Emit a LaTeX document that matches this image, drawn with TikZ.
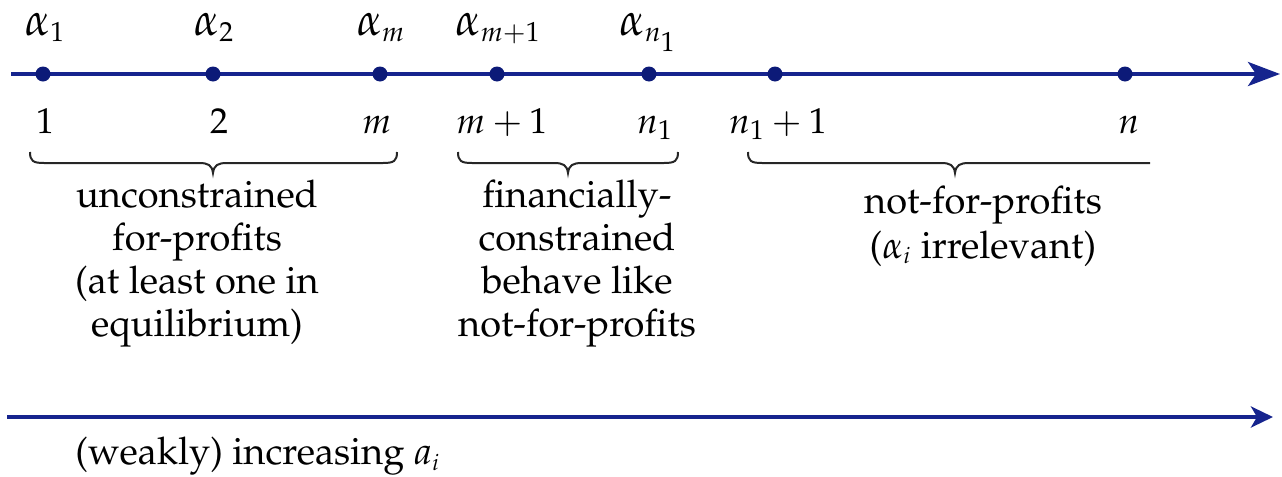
\documentclass[tikz,border=0pt]{standalone}
\usepackage[T1]{fontenc}
\usepackage{mathpazo}
\usetikzlibrary{arrows.meta}
\definecolor{axisblue}{RGB}{22,36,142}
\definecolor{dotblue}{RGB}{12,26,120}
\begin{document}
\begin{tikzpicture}[x=0.5pt,y=-0.5pt,
  axis/.style={draw=axisblue, line width=2pt},
  dot/.style={circle, fill=dotblue, inner sep=0pt, minimum size=7.5pt},
  lbl/.style={anchor=base, inner sep=0pt, font=\fontsize{18}{21}\selectfont},
  wlbl/.style={anchor=base, inner sep=0pt, font=\fontsize{23}{24}\selectfont},
  brace/.style={draw=black!85, line width=1pt},
  txt/.style={align=center, inner sep=0pt, font=\fontsize{19}{21.5}\selectfont}]
\useasboundingbox (0,0) rectangle (1282,477);
% the index axis
\coordinate (ax0) at (11,74);
\coordinate (ax1) at (1280,74);
\draw[axis, -{Stealth[length=16pt, width=12pt, inset=4pt]}] (ax0)--(ax1);
\node[dot] (p1) at (43,74) {};
\node[dot] (p2) at (213,74) {};
\node[dot] (pm) at (380,74) {};
\node[dot] (pm1) at (497,74) {};
\node[dot] (pn1) at (649,74) {};
\node[dot] (pn11) at (775,74) {};
\node[dot] (pn) at (1125,74) {};
% weights above
\node[wlbl] (a1) at (45,35) {$\alpha_{\scriptscriptstyle 1}$};
\node[wlbl] (a2) at (214,35) {$\alpha_{\scriptscriptstyle 2}$};
\node[wlbl] (am) at (381,35) {$\alpha_{\scriptscriptstyle m}$};
\node[wlbl] (am1) at (498,35) {$\alpha_{\scriptscriptstyle m+1}$};
\node[wlbl] (an1) at (648,35) {$\alpha_{\scriptscriptstyle n_1}$};
% indices below
\node[lbl] (i1) at (45,133) {$1$};
\node[lbl] (i2) at (219,133) {$2$};
\node[lbl] (im) at (377,133) {$m$};
\node[lbl] (im1) at (502,133) {$m+1$};
\node[lbl] (in1) at (655,133) {$n_1$};
\node[lbl] (in11) at (778,133) {$n_1+1$};
\node[lbl] (in) at (1129,133) {$n$};
% braces
\draw[brace] (30,152) .. controls (30,161) and (33,163) .. (44,163) -- (199,163)
  .. controls (208,163) and (212,165) .. (213,173) .. controls (214,165) and (218,163) .. (227,163)
  -- (383,163) .. controls (394,163) and (397,161) .. (397,152);
\draw[brace] (458,152) .. controls (458,161) and (461,163) .. (472,163) -- (554,163)
  .. controls (563,163) and (567,165) .. (568,173) .. controls (569,165) and (573,163) .. (582,163)
  -- (664,163) .. controls (675,163) and (678,161) .. (678,152);
\draw[brace] (748,152) .. controls (748,161) and (751,163) .. (762,163) -- (941,163)
  .. controls (950,163) and (954,165) .. (955,173) .. controls (956,165) and (960,163) .. (969,163)
  -- (1150,163);
% group texts
\node[txt] (g1) at (197,264) {unconstrained\\for-profits\\(at least one in\\equilibrium)};
\node[txt] (g2) at (577,264) {financially-\\constrained\\behave like\\not-for-profits};
\node[txt] (g3) at (983,226) {not-for-profits\\[1pt]($\alpha_{\scriptscriptstyle i}$ irrelevant)};
% ability axis
\coordinate (bx0) at (7,417);
\coordinate (bx1) at (1273,417);
\draw[axis, -{Stealth[length=11pt, width=10.5pt, inset=3pt]}] (bx0)--(bx1);
\node[txt, anchor=west] (inc) at (75,456) {(weakly) increasing $a_{\scriptscriptstyle i}$};
\end{tikzpicture}
\end{document}
